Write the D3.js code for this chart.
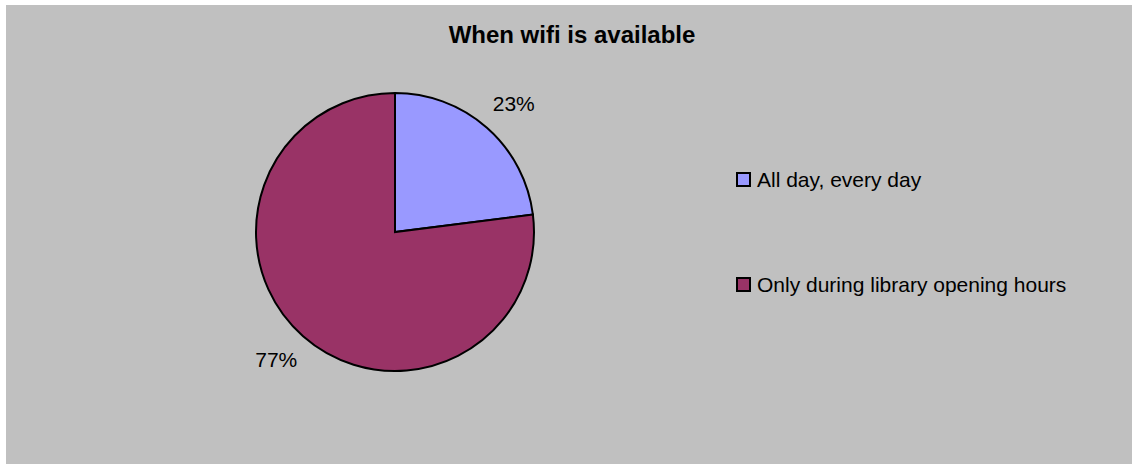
<!DOCTYPE html>
<html>
<head>
<meta charset="utf-8">
<script src="https://cdn.jsdelivr.net/npm/d3@7"></script>
<style>
  body { margin: 0; background: #fff; }
  text { font-family: "Liberation Sans", Arial, sans-serif; fill: #000; }
</style>
</head>
<body>
<svg id="chart" width="1132" height="464"></svg>
<script>
var categories = ["All day, every day", "Only during library opening hours"],
    values = [23, 77],
    colors = ["#9999ff", "#993366"];

var svg = d3.select("#chart"),
    cx = 395, cy = 232, r = 139;

svg.append("rect")
    .attr("x", 6).attr("y", 5)
    .attr("width", 1126).attr("height", 459)
    .style("fill", "#c0c0c0");

svg.append("text")
    .attr("x", 572).attr("y", 43)
    .attr("text-anchor", "middle")
    .style("font-size", "24px").style("font-weight", "bold")
    .text("When wifi is available");

var pie = d3.pie().sort(null)(values);
var arc = d3.arc().innerRadius(0).outerRadius(r);

var g = svg.append("g").attr("transform", "translate(" + cx + "," + cy + ")");

g.selectAll("path.slice")
    .data(pie)
  .enter().append("path")
    .attr("class", "slice")
    .attr("d", arc)
    .style("fill", function(d, i) { return colors[i]; })
    .style("stroke", "#000").style("stroke-width", 2);

// percentage labels outside the pie
var lab = d3.arc().innerRadius(r + 36).outerRadius(r + 36);
g.selectAll("text.pct")
    .data(pie)
  .enter().append("text")
    .attr("class", "pct")
    .attr("x", function(d) { var c = lab.centroid(d); return c[0] + (c[0] > 0 ? 3 : -3); })
    .attr("y", function(d) { var c = lab.centroid(d); return c[1] + (c[1] < 0 ? 10 : 4); })
    .attr("text-anchor", "middle")
    .style("font-size", "21px")
    .text(function(d) { return d.data + "%"; });

var legend = svg.selectAll("g.leg")
    .data(categories)
  .enter().append("g")
    .attr("class", "leg")
    .attr("transform", function(d, i) { return "translate(737," + (173 + i * 105) + ")"; });

legend.append("rect")
    .attr("width", 13).attr("height", 13)
    .style("fill", function(d, i) { return colors[i]; })
    .style("stroke", "#000").style("stroke-width", 2);

legend.append("text")
    .attr("x", 20).attr("y", 14)
    .style("font-size", "21px")
    .text(function(d) { return d; });
</script>
</body>
</html>
